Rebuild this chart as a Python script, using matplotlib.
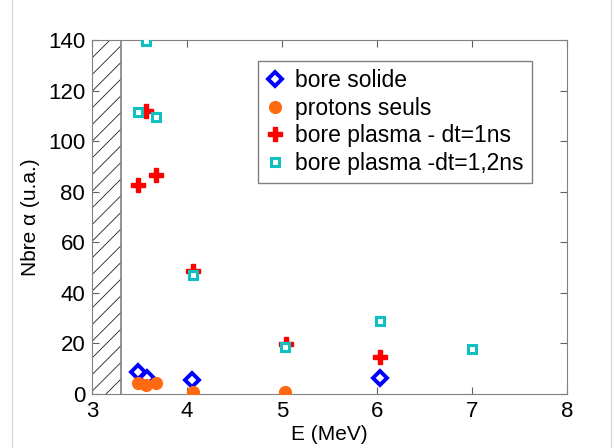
import matplotlib.pyplot as plt
from matplotlib.patches import Rectangle
from matplotlib.lines import Line2D

plt.rcParams['font.family'] = ['Liberation Sans', 'DejaVu Sans']
plt.rcParams['hatch.linewidth'] = 0.6

# bore solide
E_solide = [3.48, 3.58, 4.05, 6.03]
N_solide = [8.7, 6.2, 5.5, 6.2]
# protons seuls
E_protons = [3.48, 3.57, 3.67, 4.06, 5.03]
N_protons = [4.2, 3.6, 4.2, 0.8, 0.8]
# bore plasma dt=1ns
E_p1 = [3.48, 3.57, 3.67, 4.06, 5.04, 6.03]
N_p1 = [82.5, 112, 86.6, 48.8, 19.6, 14.8]
# bore plasma dt=1,2ns
E_p12 = [3.48, 3.57, 3.67, 4.06, 5.03, 6.03, 7.0]
N_p12 = [111.5, 139.6, 109.6, 47.0, 18.5, 28.9, 17.8]

fig = plt.figure(figsize=(6.14, 4.48), dpi=100, facecolor='white')
ax = fig.add_axes([0.150, 0.1205, 0.773, 0.790])

# light frame lines at figure edges
fig.add_artist(Line2D([12/614, 12/614], [0, 1], color='#d8d8d8', lw=1))
fig.add_artist(Line2D([611/614, 611/614], [0, 1], color='#d8d8d8', lw=1))

ax.add_patch(Rectangle((3, 0), 0.3, 140, facecolor='none', edgecolor='#202020',
                       hatch='//', linewidth=0, zorder=1))
ax.axvline(3.3, color='#808080', lw=1.2, zorder=2)

ax.plot(E_solide, N_solide, 'D', ls='none', ms=7.5, mfc='white', mec='blue', mew=2.8,
        label='bore solide', zorder=3)
ax.plot(E_protons, N_protons, 'o', ls='none', ms=8.5, color='#FF6A10',
        label='protons seuls', zorder=3)
ax.plot(E_p1, N_p1, 'P', ls='none', ms=10, color='red',
        label='bore plasma - dt=1ns', zorder=4)
ax.plot(E_p12, N_p12, 's', ls='none', ms=6, mfc='white', mec='#10BFBF', mew=2.2,
        label='bore plasma -dt=1,2ns', zorder=5)

ax.set_xlim(3, 8)
ax.set_ylim(0, 140)
ax.set_xticks([3, 4, 5, 6, 7, 8])
ax.set_yticks(range(0, 141, 20))
ax.tick_params(direction='in', top=True, right=True, labelsize=16, length=5,
               color='#606060', pad=5)
for s in ax.spines.values():
    s.set_color('#808080')

ax.set_xlabel('E (MeV)', fontsize=15, labelpad=2)
ax.set_ylabel('Nbre α (u.a.)', fontsize=15, labelpad=6)

leg = ax.legend(loc='upper right', bbox_to_anchor=(0.926, 0.941), borderaxespad=0,
                fontsize=16.5, fancybox=False, framealpha=1, edgecolor='#808080',
                handletextpad=0.46, borderpad=0.35, labelspacing=0.2,
                handlelength=0.8)
leg.get_frame().set_linewidth(1.0)

fig.savefig('out.png', dpi=100)
